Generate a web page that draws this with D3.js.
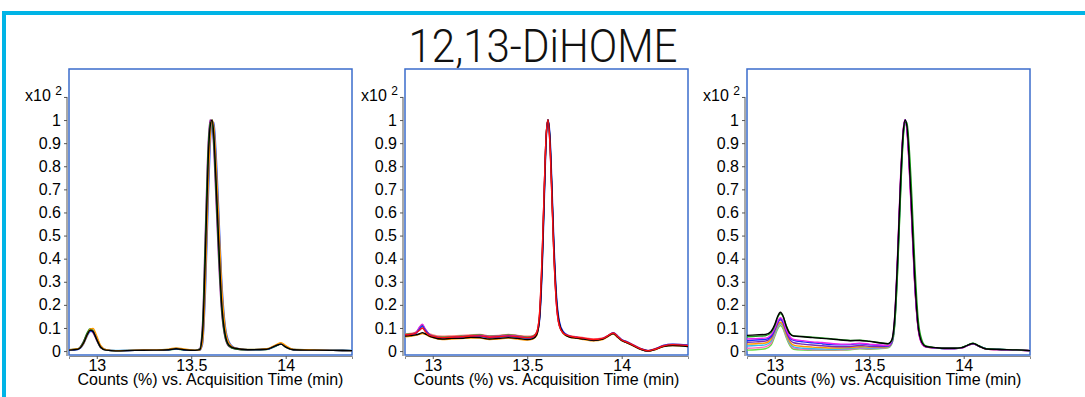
<!DOCTYPE html>
<html>
<head>
<meta charset="utf-8">
<script src="https://cdn.jsdelivr.net/npm/d3@7"></script>
<style>
  body { margin: 0; background: #fff; }
  svg { display: block; }
  .tick text { font-family: "Liberation Sans", Arial, sans-serif; fill: #000; }
  .title { font-family: Roboto, sans-serif; font-weight: 300; }
  .xtitle { font-family: "Liberation Sans", Arial, sans-serif; font-size: 16px; }
</style>
</head>
<body>
<div id="chart-container"></div>
<script>
// ticks shared by all three panels
const yTicks = [0, 0.1, 0.2, 0.3, 0.4, 0.5, 0.6, 0.7, 0.8, 0.9, 1];
const yTopTick = 1.1;
const xTicks = [13, 13.5, 14];

// panel 1 (retention time, min)
const t1 = [12.853, 12.9, 12.93, 12.95, 12.965, 12.98, 13.0, 13.02, 13.05, 13.1, 13.2, 13.3, 13.38, 13.42, 13.46, 13.52,
  13.545, 13.56, 13.575, 13.59, 13.6, 13.61, 13.62, 13.63, 13.645, 13.66, 13.68, 13.7, 13.73, 13.8, 13.9, 13.95, 13.975,
  14.0, 14.04, 14.15, 14.25, 14.351];
const p1LightBlue = [0.006, 0.01, 0.036, 0.074, 0.092, 0.09, 0.055, 0.02, 0.006, 0.003, 0.005, 0.005, 0.007, 0.012, 0.007, 0.004,
  0.005, 0.05, 0.35, 0.77, 0.95, 1.0, 0.96, 0.82, 0.55, 0.28, 0.09, 0.032, 0.013, 0.007, 0.009, 0.026, 0.034, 0.021, 0.008, 0.005, 0.004, 0.003];
const p1Purple = [0.005, 0.009, 0.042, 0.078, 0.09, 0.08, 0.045, 0.015, 0.004, 0.001, 0.003, 0.004, 0.006, 0.011, 0.006, 0.003,
  0.01, 0.12, 0.52, 0.9, 1.0, 0.98, 0.87, 0.68, 0.4, 0.18, 0.055, 0.02, 0.01, 0.005, 0.008, 0.025, 0.031, 0.017, 0.006, 0.004, 0.003, 0.002];
const p1Green = [0.005, 0.009, 0.04, 0.08, 0.097, 0.088, 0.05, 0.017, 0.004, 0.001, 0.003, 0.003, 0.005, 0.009, 0.005, 0.003,
  0.008, 0.1, 0.48, 0.87, 0.99, 0.99, 0.9, 0.72, 0.44, 0.2, 0.06, 0.022, 0.01, 0.005, 0.007, 0.022, 0.03, 0.017, 0.006, 0.004, 0.003, 0.002];
const p1Blue = [0.004, 0.007, 0.03, 0.066, 0.085, 0.086, 0.058, 0.022, 0.005, 0.002, 0.003, 0.004, 0.006, 0.01, 0.006, 0.003,
  0.003, 0.03, 0.25, 0.65, 0.88, 0.99, 0.99, 0.88, 0.62, 0.33, 0.11, 0.04, 0.015, 0.006, 0.008, 0.024, 0.032, 0.02, 0.007, 0.004, 0.003, 0.002];
const p1Orange = [0.006, 0.01, 0.032, 0.07, 0.095, 0.098, 0.065, 0.025, 0.006, 0.002, 0.004, 0.005, 0.008, 0.014, 0.009, 0.004,
  0.004, 0.04, 0.3, 0.72, 0.92, 1.0, 0.97, 0.84, 0.58, 0.3, 0.1, 0.035, 0.014, 0.007, 0.01, 0.028, 0.036, 0.024, 0.008, 0.005, 0.003, 0.002];
const p1Black = [0.004, 0.008, 0.035, 0.072, 0.09, 0.085, 0.05, 0.018, 0.004, 0.001, 0.003, 0.004, 0.006, 0.01, 0.006, 0.003,
  0.006, 0.08, 0.42, 0.83, 0.97, 1.0, 0.93, 0.76, 0.48, 0.22, 0.07, 0.025, 0.012, 0.006, 0.008, 0.024, 0.03, 0.018, 0.006, 0.004, 0.003, 0.002];

// panel 2
const t2 = [12.853, 12.88, 12.91, 12.93, 12.945, 12.96, 12.98, 13.0, 13.05, 13.1, 13.15, 13.2, 13.25, 13.3, 13.35, 13.4,
  13.45, 13.5, 13.53, 13.55, 13.565, 13.58, 13.59, 13.6, 13.61, 13.62, 13.63, 13.64, 13.655, 13.67, 13.69, 13.72,
  13.76, 13.8, 13.85, 13.9, 13.93, 13.955, 13.98, 14.0, 14.03, 14.06, 14.1, 14.14, 14.18, 14.22, 14.27, 14.351];
const p2Pink = [0.074, 0.076, 0.082, 0.092, 0.1, 0.088, 0.076, 0.07, 0.064, 0.066, 0.068, 0.07, 0.072, 0.066, 0.068, 0.072,
  0.068, 0.064, 0.066, 0.082, 0.16, 0.44, 0.7, 0.93, 1.0, 0.9, 0.68, 0.44, 0.2, 0.11, 0.08, 0.068,
  0.062, 0.058, 0.052, 0.057, 0.069, 0.08, 0.064, 0.05, 0.04, 0.028, 0.012, 0.003, 0.011, 0.024, 0.03, 0.026];
const p2Orange = [0.062, 0.064, 0.068, 0.072, 0.076, 0.072, 0.064, 0.058, 0.05, 0.052, 0.054, 0.056, 0.056, 0.05, 0.052, 0.056,
  0.052, 0.048, 0.052, 0.068, 0.14, 0.41, 0.68, 0.92, 1.0, 0.91, 0.7, 0.46, 0.21, 0.11, 0.076, 0.062,
  0.055, 0.05, 0.044, 0.05, 0.064, 0.074, 0.058, 0.045, 0.035, 0.023, 0.007, 0.0, 0.007, 0.019, 0.024, 0.02];
const p2Green = [0.072, 0.074, 0.08, 0.1, 0.112, 0.094, 0.074, 0.066, 0.06, 0.062, 0.064, 0.068, 0.07, 0.064, 0.066, 0.07,
  0.066, 0.06, 0.064, 0.08, 0.15, 0.42, 0.69, 0.93, 1.0, 0.91, 0.7, 0.45, 0.21, 0.11, 0.078, 0.064,
  0.058, 0.054, 0.048, 0.054, 0.066, 0.076, 0.06, 0.046, 0.036, 0.025, 0.009, 0.001, 0.009, 0.021, 0.026, 0.022];
const p2Magenta = [0.07, 0.072, 0.08, 0.104, 0.116, 0.096, 0.074, 0.064, 0.058, 0.06, 0.062, 0.066, 0.068, 0.062, 0.064, 0.068,
  0.064, 0.058, 0.062, 0.078, 0.15, 0.43, 0.7, 0.93, 1.0, 0.9, 0.69, 0.45, 0.2, 0.11, 0.078, 0.065,
  0.059, 0.055, 0.049, 0.055, 0.067, 0.077, 0.061, 0.047, 0.037, 0.025, 0.009, 0.001, 0.009, 0.022, 0.027, 0.023];
const p2Blue = [0.068, 0.07, 0.076, 0.095, 0.108, 0.09, 0.072, 0.064, 0.056, 0.058, 0.06, 0.062, 0.064, 0.058, 0.06, 0.064,
  0.06, 0.056, 0.06, 0.075, 0.13, 0.37, 0.64, 0.9, 1.0, 0.94, 0.74, 0.5, 0.24, 0.13, 0.085, 0.066,
  0.06, 0.054, 0.048, 0.054, 0.068, 0.08, 0.064, 0.05, 0.04, 0.027, 0.01, 0.002, 0.01, 0.024, 0.03, 0.026];
const p2Black = [0.065, 0.067, 0.07, 0.075, 0.08, 0.075, 0.066, 0.06, 0.052, 0.055, 0.055, 0.06, 0.058, 0.052, 0.055, 0.058,
  0.055, 0.05, 0.054, 0.07, 0.14, 0.4, 0.67, 0.92, 1.0, 0.92, 0.71, 0.47, 0.22, 0.12, 0.08, 0.062,
  0.056, 0.052, 0.046, 0.052, 0.066, 0.076, 0.06, 0.046, 0.036, 0.024, 0.008, 0.0, 0.008, 0.02, 0.024, 0.02];
const p2Red = [0.07, 0.072, 0.078, 0.09, 0.1, 0.085, 0.07, 0.065, 0.058, 0.06, 0.062, 0.065, 0.066, 0.06, 0.062, 0.066,
  0.062, 0.058, 0.062, 0.08, 0.16, 0.44, 0.7, 0.93, 1.0, 0.9, 0.68, 0.44, 0.2, 0.11, 0.078, 0.066,
  0.06, 0.056, 0.05, 0.055, 0.068, 0.078, 0.062, 0.048, 0.038, 0.026, 0.01, 0.001, 0.009, 0.022, 0.028, 0.024];

// panel 3
const t3 = [12.853, 12.9, 12.95, 12.98, 13.0, 13.015, 13.03, 13.045, 13.06, 13.08, 13.1, 13.15, 13.2, 13.25, 13.3, 13.35,
  13.4, 13.45, 13.5, 13.55, 13.6, 13.62, 13.635, 13.65, 13.665, 13.68, 13.69, 13.7, 13.71, 13.725, 13.74, 13.76,
  13.78, 13.8, 13.85, 13.9, 13.95, 13.99, 14.02, 14.05, 14.08, 14.12, 14.2, 14.28, 14.351];
const p3LightGreen = [0.004, 0.006, 0.01, 0.026, 0.064, 0.095, 0.11, 0.095, 0.06, 0.024, 0.008, 0.004, 0.003, 0.003, 0.003, 0.004,
  0.006, 0.01, 0.008, 0.01, 0.014, 0.032, 0.11, 0.35, 0.67, 0.93, 0.99, 0.97, 0.87, 0.63, 0.34, 0.11,
  0.036, 0.02, 0.014, 0.011, 0.012, 0.015, 0.025, 0.033, 0.022, 0.01, 0.007, 0.004, 0.002];
const p3Pink = [0.012, 0.014, 0.018, 0.034, 0.072, 0.102, 0.118, 0.102, 0.066, 0.03, 0.013, 0.008, 0.006, 0.005, 0.005, 0.006,
  0.008, 0.012, 0.01, 0.012, 0.016, 0.034, 0.12, 0.38, 0.7, 0.95, 1.0, 0.95, 0.83, 0.57, 0.3, 0.09,
  0.03, 0.017, 0.013, 0.011, 0.011, 0.014, 0.024, 0.031, 0.021, 0.009, 0.006, 0.004, 0.002];
const p3Cyan = [0.022, 0.024, 0.027, 0.042, 0.078, 0.105, 0.12, 0.105, 0.07, 0.034, 0.018, 0.012, 0.01, 0.009, 0.008, 0.009,
  0.011, 0.015, 0.013, 0.014, 0.017, 0.035, 0.12, 0.37, 0.69, 0.94, 1.0, 0.96, 0.85, 0.6, 0.32, 0.1,
  0.034, 0.019, 0.013, 0.011, 0.011, 0.015, 0.025, 0.033, 0.022, 0.01, 0.006, 0.004, 0.002];
const p3Orange = [0.03, 0.032, 0.035, 0.05, 0.085, 0.112, 0.125, 0.11, 0.075, 0.04, 0.026, 0.02, 0.017, 0.015, 0.013, 0.013,
  0.015, 0.019, 0.017, 0.017, 0.019, 0.038, 0.13, 0.39, 0.71, 0.95, 1.0, 0.96, 0.84, 0.59, 0.31, 0.095,
  0.032, 0.018, 0.013, 0.011, 0.011, 0.015, 0.025, 0.032, 0.021, 0.009, 0.006, 0.004, 0.002];
const p3Purple = [0.038, 0.04, 0.043, 0.058, 0.09, 0.12, 0.135, 0.12, 0.085, 0.05, 0.036, 0.03, 0.026, 0.023, 0.02, 0.019,
  0.02, 0.024, 0.021, 0.02, 0.021, 0.04, 0.14, 0.4, 0.72, 0.95, 1.0, 0.96, 0.83, 0.58, 0.31, 0.095,
  0.032, 0.018, 0.013, 0.011, 0.011, 0.014, 0.024, 0.031, 0.021, 0.009, 0.006, 0.004, 0.002];
const p3Blue = [0.045, 0.048, 0.05, 0.064, 0.095, 0.125, 0.14, 0.125, 0.09, 0.058, 0.046, 0.04, 0.036, 0.032, 0.028, 0.027,
  0.028, 0.032, 0.028, 0.025, 0.023, 0.04, 0.13, 0.38, 0.7, 0.94, 1.0, 0.96, 0.85, 0.6, 0.32, 0.1,
  0.033, 0.019, 0.014, 0.011, 0.011, 0.015, 0.025, 0.032, 0.022, 0.01, 0.007, 0.004, 0.002];
const p3Magenta = [0.052, 0.054, 0.056, 0.07, 0.1, 0.13, 0.145, 0.13, 0.095, 0.062, 0.05, 0.045, 0.04, 0.037, 0.033, 0.03,
  0.03, 0.034, 0.03, 0.026, 0.024, 0.045, 0.15, 0.42, 0.74, 0.96, 1.0, 0.95, 0.82, 0.56, 0.3, 0.09,
  0.03, 0.018, 0.014, 0.011, 0.011, 0.014, 0.024, 0.031, 0.021, 0.009, 0.006, 0.004, 0.002];
const p3Green = [0.062, 0.064, 0.066, 0.08, 0.11, 0.145, 0.162, 0.148, 0.112, 0.078, 0.066, 0.063, 0.06, 0.057, 0.053, 0.049,
  0.046, 0.047, 0.043, 0.037, 0.032, 0.045, 0.12, 0.34, 0.66, 0.92, 0.99, 0.99, 0.9, 0.68, 0.4, 0.13,
  0.045, 0.022, 0.015, 0.012, 0.012, 0.016, 0.026, 0.034, 0.023, 0.01, 0.007, 0.005, 0.002];
const p3Black = [0.068, 0.07, 0.072, 0.085, 0.115, 0.15, 0.168, 0.15, 0.11, 0.075, 0.065, 0.062, 0.058, 0.055, 0.052, 0.048,
  0.045, 0.046, 0.042, 0.036, 0.032, 0.05, 0.15, 0.4, 0.72, 0.95, 1.0, 0.97, 0.85, 0.6, 0.33, 0.1,
  0.035, 0.02, 0.015, 0.012, 0.012, 0.015, 0.025, 0.033, 0.022, 0.009, 0.007, 0.005, 0.002];

const panels = [
  {left: 69, times: t1, traces: [
    [p1LightBlue, "#4fc3f7"], [p1Purple, "#8b008b"], [p1Green, "#1a9a1a"], [p1Blue, "#2050ff"],
    [p1Orange, "#ff9900"], [p1Black, "#000000"]]},
  {left: 405, times: t2, traces: [
    [p2Pink, "#ff7a7a"], [p2Orange, "#ff9900"], [p2Green, "#1a9a1a"], [p2Magenta, "#e020e0"],
    [p2Blue, "#1030ff"], [p2Black, "#000000"], [p2Red, "#ff1010"]]},
  {left: 747, times: t3, traces: [
    [p3LightGreen, "#66dd44"], [p3Pink, "#ff66bb"], [p3Cyan, "#33bbee"], [p3Orange, "#ff9900"],
    [p3Purple, "#7b2ab0"], [p3Blue, "#1030ff"], [p3Magenta, "#ee22ee"], [p3Green, "#1a9a1a"], [p3Black, "#000000"]]}
];

const W = 1085, H = 397;
const plotW = 283, plotTop = 69, plotBottom = 355;

const svg = d3.select("#chart-container")
  .append("svg")
  .attr("width", W)
  .attr("height", H);

// outer cyan frame
svg.append("rect")
  .attr("x", 4).attr("y", 13)
  .attr("width", W + 20).attr("height", H + 20)
  .attr("fill", "none")
  .attr("stroke", "#00b4e6")
  .attr("stroke-width", 4);

svg.append("text")
  .attr("class", "title")
  .attr("x", 543).attr("y", 62)
  .attr("text-anchor", "middle")
  .attr("font-size", 46)
  .attr("textLength", 269)
  .attr("lengthAdjust", "spacingAndGlyphs")
  .attr("fill", "#111")
  .text("12,13-DiHOME");

const y = d3.scaleLinear().domain([-0.017, 1.221]).range([plotBottom, plotTop]);

panels.forEach((p, i) => {
  const x = d3.scaleLinear().domain([12.853, 14.351]).range([p.left, p.left + plotW]);
  const g = svg.append("g");

  g.append("clipPath").attr("id", "clip" + i)
    .append("rect")
    .attr("x", p.left).attr("y", plotTop)
    .attr("width", plotW).attr("height", plotBottom - plotTop);

  // frame
  g.append("rect")
    .attr("x", p.left).attr("y", plotTop)
    .attr("width", plotW).attr("height", plotBottom - plotTop)
    .attr("fill", "none")
    .attr("stroke", "#3b6ccc")
    .attr("stroke-width", 1.5);

  const line = d3.line()
    .x((d, j) => x(p.times[j]))
    .y(d => y(d))
    .curve(d3.curveMonotoneX);

  g.append("g").attr("clip-path", `url(#clip${i})`)
    .selectAll("path")
    .data(p.traces)
    .join("path")
    .attr("d", d => line(d[0]))
    .attr("fill", "none")
    .attr("stroke", d => d[1])
    .attr("stroke-width", 1.4);

  // y axis
  const ax = p.left - 2;
  const yAxis = g.append("g")
    .attr("transform", `translate(${ax},0)`)
    .call(d3.axisLeft(y).tickValues(yTicks.concat([yTopTick])).tickSize(3).tickPadding(3)
      .tickFormat(d => d === yTopTick ? "" : d));
  yAxis.select(".domain").remove();
  yAxis.selectAll(".tick line").attr("stroke", "#555");
  yAxis.selectAll(".tick text").attr("font-size", 16);
  yAxis.append("line")
    .attr("x1", 0).attr("x2", 0)
    .attr("y1", y(yTopTick)).attr("y2", plotBottom + 1)
    .attr("stroke", "#555");
  const exp = yAxis.append("text")
    .attr("x", -5).attr("y", y(yTopTick) + 4)
    .attr("text-anchor", "end")
    .attr("font-family", "Liberation Sans, Arial, sans-serif")
    .attr("font-size", 16)
    .attr("fill", "#000");
  exp.append("tspan").text("x10 ");
  exp.append("tspan").attr("font-size", 12).attr("dy", -6).text("2");

  // x axis
  const xAxis = g.append("g")
    .attr("transform", `translate(0,${plotBottom + 1})`)
    .call(d3.axisBottom(x).tickValues(xTicks).tickSize(3).tickPadding(1).tickFormat(d => d));
  xAxis.select(".domain").attr("stroke", "#888");
  xAxis.selectAll(".tick line").attr("stroke", "#555");
  xAxis.selectAll(".tick text").attr("font-size", 16);

  g.append("text")
    .attr("class", "xtitle")
    .attr("x", p.left + plotW / 2).attr("y", 385)
    .attr("text-anchor", "middle")
    .text("Counts (%) vs. Acquisition Time (min)");
});
</script>
</body>
</html>
